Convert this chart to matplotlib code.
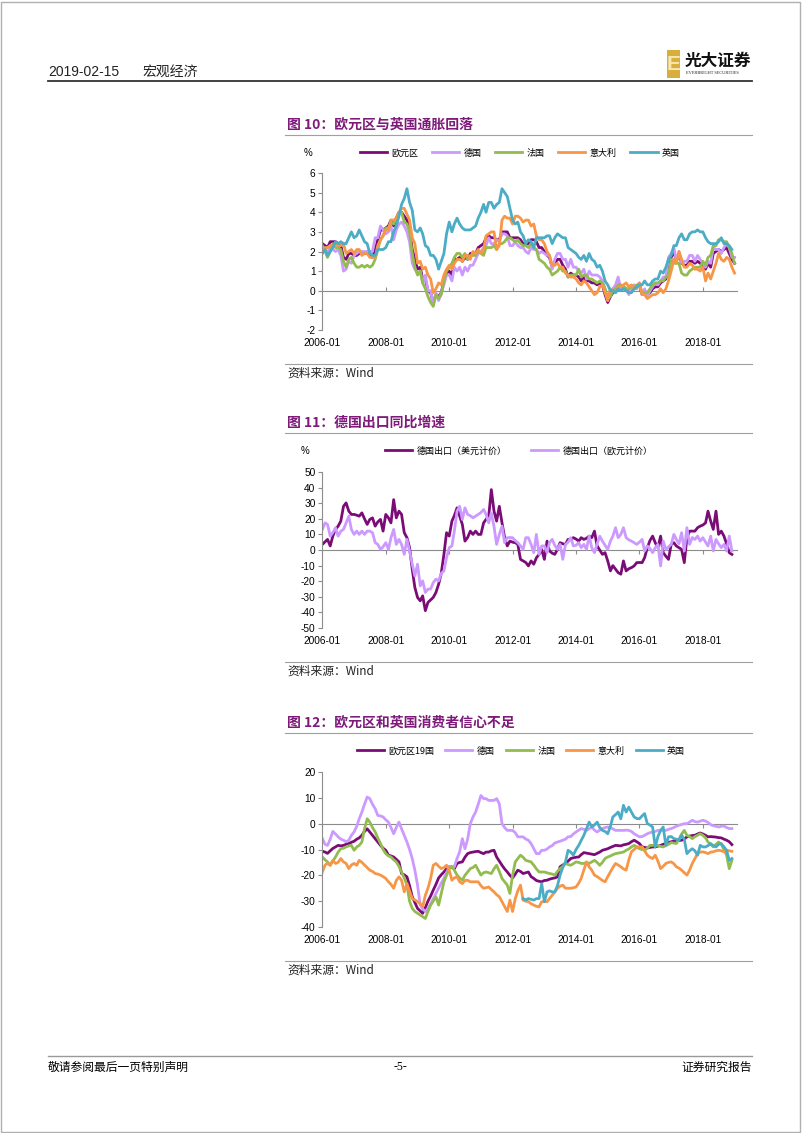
import pandas as pd
import matplotlib
matplotlib.use("Agg")
import matplotlib.pyplot as plt
import matplotlib.dates as mdates
from matplotlib.patches import Rectangle
from matplotlib.lines import Line2D

plt.rcParams['font.family'] = ['Noto Sans CJK SC', 'DejaVu Sans']
plt.rcParams['axes.unicode_minus'] = False

# ---------------- data ----------------
# 图10 HICP/CPI y/y, %, monthly from 2006-01
cpi_ez = [2.4,2.3,2.2,2.5,2.5,2.5,2.4,2.3,1.7,1.6,1.9,1.9,
          1.8,1.8,1.9,1.9,1.9,1.9,1.8,1.7,2.1,2.6,3.1,3.1,
          3.2,3.3,3.6,3.3,3.7,4.0,4.0,3.8,3.6,3.2,2.1,1.6,
          1.1,1.2,0.6,0.6,0.0,-0.1,-0.6,-0.2,-0.3,-0.1,0.5,0.9,
          1.0,0.8,1.6,1.6,1.7,1.5,1.7,1.6,1.9,1.9,1.9,2.2,
          2.3,2.4,2.7,2.8,2.7,2.7,2.6,2.6,3.0,3.0,3.0,2.7,
          2.7,2.7,2.7,2.6,2.4,2.4,2.4,2.6,2.6,2.5,2.2,2.2,
          2.0,1.8,1.7,1.2,1.4,1.6,1.6,1.3,1.1,0.7,0.9,0.8,
          0.8,0.7,0.5,0.7,0.5,0.5,0.4,0.4,0.3,0.4,0.3,-0.2,
          -0.6,-0.3,-0.1,0.0,0.3,0.2,0.2,0.1,-0.1,0.1,0.1,0.2,
          0.3,-0.2,0.0,-0.2,-0.1,0.1,0.2,0.2,0.4,0.5,0.6,1.1,
          1.7,2.0,1.5,1.9,1.4,1.3,1.3,1.5,1.5,1.4,1.5,1.4,
          1.3,1.1,1.4,1.2,1.9,2.0,2.1,2.0,2.1,2.2,1.9,1.6,
          1.4]
cpi_de = [2.1,2.1,1.9,2.3,2.1,2.0,2.1,1.8,1.0,1.1,1.5,1.4,
          1.8,1.9,2.0,2.0,2.0,2.0,2.0,2.0,2.7,2.7,3.3,3.1,
          2.9,3.0,3.3,2.6,3.1,3.4,3.5,3.3,3.0,2.5,1.4,1.1,
          0.9,1.0,0.4,0.8,0.0,0.0,-0.7,-0.1,-0.5,-0.1,0.3,0.8,
          0.8,0.5,1.2,1.0,1.2,0.8,1.2,1.0,1.3,1.3,1.6,1.9,
          2.0,2.2,2.3,2.7,2.4,2.4,2.6,2.5,2.9,2.9,2.8,2.3,
          2.3,2.5,2.3,2.2,2.2,2.0,1.9,2.2,2.1,2.1,1.9,2.0,
          1.9,1.8,1.8,1.1,1.6,1.9,1.9,1.6,1.6,1.2,1.6,1.2,
          1.2,1.0,0.9,1.1,0.6,1.0,0.8,0.8,0.8,0.7,0.5,0.1,
          -0.5,0.0,0.1,0.3,0.7,0.1,0.1,0.1,-0.2,0.2,0.3,0.2,
          0.4,-0.2,0.1,-0.3,0.0,0.2,0.4,0.3,0.5,0.7,0.7,1.7,
          1.9,2.2,1.5,2.0,1.4,1.5,1.5,1.8,1.8,1.5,1.8,1.6,
          1.4,1.2,1.5,1.4,2.2,2.1,2.1,1.9,2.2,2.4,2.2,1.7,
          1.7]
cpi_fr = [2.3,2.0,1.7,2.0,2.4,2.2,2.2,2.1,1.5,1.2,1.6,1.7,
          1.4,1.2,1.2,1.3,1.2,1.3,1.2,1.3,1.6,2.1,2.6,2.8,
          3.2,3.2,3.5,3.4,3.7,4.0,4.0,3.5,3.4,3.0,1.9,1.2,
          0.8,1.0,0.4,0.1,-0.3,-0.6,-0.8,-0.2,-0.4,-0.2,0.5,1.0,
          1.2,1.4,1.7,1.9,1.9,1.7,1.9,1.6,1.8,1.8,1.8,2.0,
          1.9,1.8,2.2,2.2,2.2,2.3,2.1,2.4,2.4,2.5,2.7,2.7,
          2.6,2.5,2.6,2.4,2.3,2.3,2.2,2.4,2.2,2.1,1.6,1.5,
          1.4,1.2,1.1,0.8,0.9,1.0,1.2,1.0,1.0,0.7,0.8,0.8,
          0.8,1.1,0.7,0.8,0.8,0.6,0.6,0.5,0.4,0.5,0.4,0.1,
          -0.4,-0.3,0.0,0.1,0.3,0.3,0.2,0.1,0.1,0.2,0.1,0.3,
          0.3,-0.1,-0.1,-0.1,0.1,0.3,0.4,0.4,0.5,0.5,0.7,0.8,
          1.6,1.4,1.4,1.4,0.9,0.8,0.8,1.0,1.1,1.2,1.2,1.2,
          1.5,1.3,1.7,1.8,2.3,2.3,2.6,2.6,2.5,2.5,2.2,1.9,
          1.4]
cpi_it = [2.2,2.2,2.2,2.3,2.3,2.4,2.3,2.3,2.4,1.9,2.0,2.1,
          1.9,2.1,2.1,1.8,1.9,1.9,1.7,1.7,1.7,2.3,2.6,2.8,
          3.1,3.1,3.6,3.6,3.7,4.0,4.2,4.2,3.9,3.6,2.7,2.4,
          1.4,1.5,1.1,1.2,0.8,0.6,-0.1,0.1,0.4,0.3,0.8,1.1,
          1.3,1.1,1.4,1.6,1.6,1.5,1.8,1.8,1.6,2.0,1.9,2.1,
          1.9,2.1,2.8,2.9,3.0,3.0,2.1,2.3,3.6,3.8,3.7,3.7,
          3.4,3.8,3.8,3.7,3.5,3.6,3.6,3.3,3.4,2.8,2.6,2.6,
          2.4,2.0,1.8,1.3,1.3,1.4,1.2,1.2,0.9,0.8,0.7,0.7,
          0.6,0.4,0.3,0.5,0.4,0.2,0.0,-0.2,-0.1,0.2,0.3,-0.1,
          -0.5,0.1,0.0,-0.1,0.2,0.2,0.3,0.4,0.2,0.3,0.1,0.1,
          0.4,-0.2,-0.2,-0.4,-0.3,-0.2,-0.2,-0.1,0.1,-0.1,0.1,0.5,
          1.0,1.6,1.4,2.0,1.6,1.2,1.2,1.4,1.3,1.1,1.1,1.0,
          1.2,0.5,0.9,0.6,1.0,1.4,1.9,1.6,1.5,1.7,1.6,1.2,
          0.9]
cpi_uk = [1.9,2.1,1.8,2.0,2.2,2.5,2.4,2.5,2.4,2.4,2.7,3.0,
          2.7,2.8,3.1,2.8,2.5,2.4,1.9,1.8,1.8,2.1,2.1,2.1,
          2.2,2.5,2.5,3.0,3.3,3.8,4.4,4.7,5.2,4.5,4.1,3.1,
          3.0,3.2,2.9,2.3,2.2,1.8,1.8,1.6,1.1,1.5,1.9,2.9,
          3.5,3.0,3.4,3.7,3.4,3.2,3.1,3.1,3.1,3.2,3.3,3.7,
          4.0,4.4,4.0,4.5,4.5,4.2,4.4,4.5,5.2,5.0,4.8,4.2,
          3.6,3.4,3.5,3.0,2.8,2.4,2.6,2.5,2.2,2.7,2.7,2.7,
          2.7,2.8,2.8,2.4,2.7,2.9,2.8,2.7,2.7,2.2,2.1,2.0,
          1.9,1.7,1.6,1.8,1.5,1.9,1.6,1.5,1.2,1.3,1.0,0.5,
          0.3,0.0,0.0,-0.1,0.1,0.0,0.1,0.0,-0.1,-0.1,0.1,0.2,
          0.3,0.3,0.5,0.3,0.3,0.5,0.6,0.6,1.0,0.9,1.2,1.6,
          1.8,2.3,2.3,2.7,2.9,2.6,2.6,2.9,3.0,3.0,3.1,3.0,
          3.0,2.7,2.5,2.4,2.4,2.4,2.5,2.7,2.4,2.4,2.3,2.1]
cpi_names = ['欧元区', '德国', '法国', '意大利', '英国']

# 图11 German exports y/y, %, monthly from 2006-01
exp_usd = [3.6,5.3,6.8,2.6,8.9,13.2,15.3,18.5,28.0,30.2,24.9,22.8,
           22.8,22.3,21.7,23.8,20.0,16.4,19.6,20.6,15.3,18.0,19.6,12.1,
           22.8,20.6,17.4,32.3,20.6,24.9,22.8,11.1,7.9,1.5,-12.3,-24.0,
           -30.4,-32.6,-29.4,-38.9,-33.6,-32.0,-30.4,-27.2,-21.9,-15.0,-2.8,11.1,
           8.9,18.5,22.0,27.0,21.7,16.4,5.7,8.0,12.1,10.0,12.1,10.0,
           10.0,17.4,19.6,21.7,38.7,24.9,18.5,28.0,17.4,8.0,2.6,5.7,
           5.0,4.7,3.6,-6.0,-7.0,-8.0,-10.2,-7.0,-9.1,-5.0,-2.8,0.4,
           -6.0,5.7,-0.6,-2.0,-2.8,0.4,4.7,4.0,3.6,6.8,6.8,7.9,
           7.0,5.7,7.9,6.8,7.5,8.9,7.9,12.1,2.6,0.0,-2.8,-1.7,
           -7.0,-13.4,-10.0,-12.3,-14.5,-15.5,-7.0,-13.4,-12.0,-11.3,-10.2,-8.1,
           -8.0,-8.1,-4.9,1.5,6.0,8.9,4.7,1.5,8.9,-1.7,-4.0,-6.0,
           3.6,4.7,2.6,1.5,0.4,-8.1,7.9,12.1,12.1,12.1,14.3,15.3,
           16.0,17.4,24.9,18.5,13.2,24.9,10.0,12.1,8.9,4.0,-1.7,-2.8]
exp_eur = [13.2,17.4,16.4,8.9,11.1,14.3,8.9,12.1,13.2,17.4,21.7,13.2,
           10.0,12.1,10.0,12.1,10.0,12.1,12.1,11.1,4.7,3.6,0.4,2.0,
           4.7,0.4,7.9,13.2,3.6,6.8,3.6,-2.8,6.8,-0.6,-9.1,-16.6,
           -9.1,-23.0,-19.8,-27.2,-25.1,-25.0,-20.9,-18.7,-19.8,-15.0,-13.4,-4.9,
           1.5,2.6,12.1,24.9,28.0,19.6,27.0,22.8,22.0,20.6,21.7,22.8,
           24.0,26.0,22.8,17.4,23.8,15.0,3.6,10.0,15.3,4.7,7.9,8.0,
           7.9,6.0,4.7,2.6,0.4,7.9,7.9,3.6,-1.7,10.0,-2.8,2.6,
           2.6,-1.7,4.7,6.8,3.0,0.4,3.6,-6.0,3.6,5.0,7.9,2.6,
           3.0,4.7,1.5,3.6,0.4,8.9,1.5,-1.7,4.0,8.9,5.7,3.0,
           0.4,5.7,8.9,14.3,7.9,10.0,14.3,7.9,6.5,5.7,4.7,3.6,
           5.0,6.8,-0.6,2.6,1.0,-1.7,1.5,3.6,-10.2,5.7,0.4,2.0,
           3.6,10.0,6.8,4.0,11.1,-0.6,14.3,3.6,8.0,6.8,8.9,5.7,
           7.9,5.0,2.6,8.9,-0.6,6.8,4.0,1.5,3.6,-0.6,8.9,-0.6]
exp_names = ['德国出口（美元计价）', '德国出口（欧元计价）']

# 图12 consumer confidence, monthly from 2006-01
cc_ez = [-10.7,-11.0,-11.5,-10.5,-9.6,-9.0,-8.4,-8.6,-8.4,-8.0,-7.7,-7.2,
         -6.8,-6.0,-5.5,-4.5,-3.0,-2.0,-3.2,-4.5,-5.8,-7.0,-8.4,-9.5,
         -10.3,-12.2,-12.5,-12.9,-13.8,-14.8,-19.3,-19.8,-20.6,-24.0,-28.3,-30.5,
         -32.8,-33.8,-34.7,-32.5,-30.0,-28.0,-25.7,-23.5,-21.0,-19.8,-18.7,-17.5,
         -16.7,-17.0,-17.4,-15.4,-15.0,-14.8,-13.0,-11.6,-11.2,-11.0,-10.8,-10.7,
         -11.2,-11.6,-11.0,-11.0,-10.5,-10.3,-12.9,-14.5,-16.1,-17.5,-18.7,-20.0,
         -21.0,-19.5,-18.0,-18.5,-19.3,-19.0,-18.7,-20.5,-21.2,-22.0,-22.3,-22.5,
         -22.0,-21.9,-21.5,-21.2,-21.0,-20.6,-16.7,-16.0,-15.4,-14.5,-13.5,-13.2,
         -13.0,-12.9,-12.0,-11.2,-11.4,-11.6,-11.8,-12.0,-11.5,-11.0,-10.3,-10.0,
         -9.7,-9.2,-8.8,-8.4,-8.5,-8.6,-8.2,-8.0,-7.7,-7.0,-6.4,-7.0,
         -7.7,-9.0,-9.2,-9.4,-9.2,-9.0,-9.0,-8.7,-8.4,-8.0,-7.6,-7.3,
         -7.0,-6.8,-6.6,-6.5,-6.4,-6.0,-5.1,-4.8,-4.6,-4.5,-4.0,-3.6,
         -4.0,-4.5,-5.1,-5.0,-5.1,-5.2,-5.4,-5.5,-6.0,-6.4,-7.0,-8.1]
cc_de = [-5.8,-8.0,-8.4,-6.0,-3.0,-4.0,-5.1,-6.0,-6.4,-7.0,-6.4,-4.5,
         -3.2,-1.0,1.9,4.5,7.5,10.3,9.7,7.5,5.8,3.2,3.0,2.6,
         1.5,0.6,-1.5,-3.9,-1.5,0.6,-2.0,-4.5,-7.1,-10.0,-13.5,-18.0,
         -23.8,-31.5,-33.0,-34.0,-32.8,-31.0,-29.0,-27.0,-25.0,-23.0,-21.2,-19.0,
         -16.7,-16.5,-16.7,-13.5,-10.9,-5.8,-9.7,-6.0,0.0,2.5,4.5,7.5,
         10.9,9.7,9.7,9.0,9.0,9.0,9.7,7.7,0.0,-1.5,-2.6,-2.6,
         -2.6,-3.5,-5.1,-5.1,-5.1,-6.0,-6.4,-7.7,-9.7,-11.6,-11.6,-10.3,
         -10.3,-9.8,-9.0,-8.5,-7.5,-7.1,-6.8,-6.4,-6.0,-5.1,-5.0,-4.0,
         -3.2,-2.5,-1.9,-2.2,-2.6,-2.0,-1.3,-2.5,-3.2,-2.5,-1.9,-1.5,
         -1.3,-1.5,-2.0,-2.6,-2.6,-2.6,-2.6,-2.5,-2.6,-3.0,-3.9,-4.5,
         -5.1,-5.0,-4.5,-3.9,-3.5,-3.2,-3.0,-2.6,-2.6,-2.6,-2.6,-2.2,
         -1.9,-1.5,-1.0,-0.6,-0.3,0.0,0.0,0.6,1.3,0.8,0.6,1.0,
         1.3,1.0,0.5,-0.4,-0.8,-1.0,-1.3,-1.0,-0.9,-1.5,-1.9,-1.9]
cc_fr = [-12.9,-14.0,-14.8,-16.1,-14.5,-12.9,-11.0,-9.7,-9.5,-9.0,-8.6,-8.4,
         -10.3,-9.0,-8.4,-7.1,-2.0,1.9,0.6,-1.5,-3.2,-5.5,-7.7,-10.0,
         -11.6,-12.5,-12.9,-14.0,-14.8,-16.5,-18.7,-21.0,-23.8,-30.0,-32.8,-34.0,
         -34.7,-35.4,-36.0,-36.7,-34.0,-31.5,-30.0,-28.3,-31.5,-27.0,-22.5,-20.0,
         -17.4,-16.7,-18.0,-19.9,-21.0,-21.9,-20.0,-18.7,-17.4,-17.0,-16.1,-18.0,
         -19.9,-19.0,-18.7,-19.0,-19.3,-17.5,-16.1,-18.5,-21.2,-22.5,-23.8,-27.0,
         -19.9,-14.8,-13.5,-12.2,-13.0,-14.2,-14.5,-14.8,-16.1,-17.5,-18.7,-18.7,
         -18.7,-19.0,-19.3,-19.5,-19.9,-18.5,-17.4,-16.5,-15.4,-15.8,-16.1,-15.5,
         -14.8,-15.0,-15.4,-15.4,-15.0,-15.4,-14.8,-14.2,-15.0,-16.1,-15.0,-13.5,
         -12.9,-12.5,-12.0,-11.6,-11.4,-11.2,-11.0,-10.3,-9.8,-9.0,-8.4,-9.0,
         -9.7,-10.0,-10.3,-9.5,-8.4,-8.4,-8.4,-8.4,-8.8,-9.0,-8.5,-8.0,
         -7.3,-7.5,-7.7,-6.0,-4.0,-2.6,-4.5,-5.0,-5.8,-5.0,-4.5,-3.9,
         -4.5,-5.5,-7.1,-8.0,-9.0,-8.0,-7.1,-8.0,-10.0,-12.2,-17.4,-14.2]
cc_it = [-18.7,-16.0,-15.4,-16.1,-14.2,-15.4,-15.0,-13.5,-14.8,-15.4,-17.4,-16.0,
         -15.4,-16.1,-14.2,-15.0,-16.0,-17.0,-18.0,-18.5,-19.3,-19.5,-19.9,-20.5,
         -21.2,-22.5,-23.5,-25.0,-22.0,-20.6,-21.9,-26.4,-23.2,-26.0,-29.0,-29.5,
         -30.2,-31.0,-32.2,-27.7,-25.0,-21.2,-16.1,-15.4,-16.5,-17.4,-17.0,-16.1,
         -18.0,-21.9,-21.0,-20.6,-22.5,-23.2,-22.0,-21.9,-22.5,-22.5,-22.5,-22.5,
         -24.0,-25.0,-24.8,-24.5,-25.5,-26.4,-27.5,-28.3,-30.2,-32.0,-34.0,-29.6,
         -34.0,-29.0,-26.0,-23.8,-29.6,-30.0,-30.2,-31.0,-31.5,-32.0,-32.2,-30.2,
         -30.2,-30.2,-29.0,-27.7,-26.5,-25.0,-24.2,-23.8,-25.0,-25.0,-25.0,-24.8,
         -24.5,-23.0,-21.2,-18.0,-14.8,-16.7,-18.0,-19.9,-20.5,-21.2,-22.0,-22.5,
         -20.5,-18.7,-17.0,-15.4,-16.0,-16.7,-17.5,-18.0,-14.0,-10.9,-10.0,-9.0,
         -9.0,-9.0,-10.5,-12.2,-13.0,-13.5,-12.2,-14.5,-17.4,-16.5,-15.4,-15.0,
         -14.8,-15.5,-16.7,-17.2,-18.0,-19.0,-19.9,-18.0,-15.4,-13.5,-11.6,-11.0,
         -10.9,-11.2,-11.6,-11.0,-10.9,-10.5,-10.3,-10.5,-10.9,-10.3,-10.5,-10.7]
# UK series starts 2012-05
cc_uk = [-29.0,-29.5,-29.0,-29.3,-29.6,-29.0,-29.0,-23.2,
         -30.2,-26.4,-26.0,-26.4,-26.4,-24.0,-19.9,-17.0,-14.8,-10.3,-11.0,-12.2,
         -10.0,-8.4,-6.5,-4.5,-2.0,0.6,-1.3,-0.5,0.6,-1.5,-2.6,-3.0,
         -3.9,-1.0,2.6,3.5,4.5,1.9,7.1,4.5,6.4,4.5,2.6,2.0,
         1.9,3.0,3.9,0.0,-0.5,-1.3,-9.0,-5.0,-2.6,-1.3,-8.4,-5.1,
         -5.0,-5.8,-6.0,-6.4,-4.5,-6.0,-11.6,-10.5,-9.7,-10.5,-12.2,-8.4,
         -9.0,-9.0,-8.5,-7.7,-8.5,-9.0,-8.0,-7.7,-9.0,-10.3,-14.2,-13.5]
cc_names = ['欧元区19国', '德国', '法国', '意大利', '英国']

colors5 = ['#7B0C77', '#CC99FF', '#92BC4E', '#F79646', '#4BACC6']
colors2 = ['#7B0C77', '#CC99FF']

W, H = 802, 1133
GRAY = '#8C8C8C'
TITLE_C = '#7E1A7A'
NUM_FONT = ['Liberation Sans', 'DejaVu Sans']


def fx(x):
    return x / W


def fy(y):
    return 1 - y / H


def months(start, n):
    return pd.date_range(start, periods=n, freq='MS')


fig = plt.figure(figsize=(W / 100, H / 100), dpi=100)

# page frame
fig.add_artist(Rectangle((0.001, 0.001), 0.997, 0.997, fill=False,
                         edgecolor='#B0B0B0', lw=1, transform=fig.transFigure))

# header
fig.text(fx(48), fy(72), '2019-02-15', fontsize=10, family=NUM_FONT,
         va='center', color='#222222')
fig.text(fx(142), fy(72), '宏观经济', fontsize=10, va='center', color='#222222')
fig.add_artist(Line2D([fx(48), fx(752)], [fy(81), fy(81)], color='#333333',
                      lw=1.3, transform=fig.transFigure))
fig.add_artist(Rectangle((fx(667), fy(78)), 13 / W, 28 / H, facecolor='#D8AE3C',
                         edgecolor='none', transform=fig.transFigure))
fig.text(fx(673.5), fy(64), 'E', fontsize=15, weight='bold', color='#F7E7B0',
         family=NUM_FONT, ha='center', va='center')
fig.text(fx(685), fy(61), '光大证券', fontsize=12, weight='bold', va='center',
         color='#111111')
fig.text(fx(686), fy(73.5), 'EVERBRIGHT SECURITIES', fontsize=3.2,
         family=['Liberation Serif', 'DejaVu Serif'], va='center', color='#222222')

# footer
fig.add_artist(Line2D([fx(48), fx(752)], [fy(1056), fy(1056)], color='#999999',
                      lw=1, transform=fig.transFigure))
fig.text(fx(48), fy(1067), '敬请参阅最后一页特别声明', fontsize=8.5, va='center')
fig.text(fx(400), fy(1067), '-5-', fontsize=8.5, va='center', ha='center',
         family=['Liberation Serif', 'DejaVu Serif'])
fig.text(fx(752), fy(1067), '证券研究报告', fontsize=8.5, va='center', ha='right')


def chart(title, title_y, top, bottom, ylim, ystep, series, dates_list, names,
          colors, leg_cx, colspace, pct_y=None):
    # title + separators
    fig.text(fx(287), fy(title_y), title, fontsize=10, weight='bold',
             color=TITLE_C, va='center')
    fig.add_artist(Line2D([fx(285), fx(752)], [fy(title_y + 10)] * 2,
                          color='#A0A0A0', lw=0.8, transform=fig.transFigure))
    src_y = bottom + 34
    fig.add_artist(Line2D([fx(285), fx(752)], [fy(src_y)] * 2,
                          color='#A0A0A0', lw=0.8, transform=fig.transFigure))
    fig.text(fx(287), fy(src_y + 9), '资料来源：Wind', fontsize=8.5,
             va='center', color='#222222')

    ax = fig.add_axes([fx(322.4), fy(bottom), 414.5 / W, (bottom - top) / H])
    handles = []
    for vals, d, c in zip(series, dates_list, colors):
        h, = ax.plot(d, vals, color=c, lw=2.0, solid_joinstyle='round')
        handles.append(h)
    ax.set_ylim(*ylim)
    ax.set_xlim(pd.Timestamp('2006-01-01'), pd.Timestamp('2019-01-28'))
    ax.set_yticks(range(ylim[0], ylim[1] + 1, ystep))

    xt = pd.date_range('2006-01-01', '2018-01-01', freq='2YS')
    ax.set_xticks(xt)
    ax.xaxis.set_major_formatter(mdates.DateFormatter('%Y-%m'))
    ax.tick_params(axis='x', length=0, pad=6, labelsize=7.3)
    ax.tick_params(axis='y', length=3, width=0.8, color=GRAY, labelsize=7.3, pad=2)
    for lab in ax.get_xticklabels() + ax.get_yticklabels():
        lab.set_family(NUM_FONT)
    for s in ['top', 'right', 'bottom']:
        ax.spines[s].set_visible(False)
    ax.spines['left'].set_color(GRAY)
    ax.spines['left'].set_linewidth(0.8)
    ax.patch.set_alpha(0)

    zero = ax.secondary_xaxis((0 - ylim[0]) / (ylim[1] - ylim[0]))
    zero.set_xticks(xt)
    zero.tick_params(direction='in', length=3, width=0.8, color=GRAY,
                     labelbottom=False, labeltop=False)
    for s in zero.spines.values():
        s.set_color(GRAY)
        s.set_linewidth(0.8)

    fig.legend(handles, names, loc='center', ncol=len(names), frameon=False,
               bbox_to_anchor=(fx(leg_cx), fy(title_y + 28)),
               bbox_transform=fig.transFigure, fontsize=6.5, handlelength=3,
               handletextpad=0.5, columnspacing=colspace)
    if pct_y is not None:
        fig.text(fx(pct_y), fy(title_y + 28), '%', fontsize=7, family=NUM_FONT,
                 va='center', ha='center')
    return ax


d157 = months('2006-01-01', 157)
d156 = months('2006-01-01', 156)
chart('图 10：欧元区与英国通胀回落', 125, 173, 330, (-2, 6), 1,
      [cpi_ez, cpi_de, cpi_fr, cpi_it, cpi_uk],
      [d157, d157, d157, d157, d156], cpi_names, colors5, 520, 1.5, pct_y=308)

chart('图 11：德国出口同比增速', 423, 472, 628, (-50, 50), 10,
      [exp_usd, exp_eur], [d156, d156], exp_names, colors2, 519, 2.7,
      pct_y=305)

chart('图 12：欧元区和英国消费者信心不足', 723, 772, 927, (-40, 20), 10,
      [cc_ez, cc_de, cc_fr, cc_it, cc_uk],
      [d156, d156, d156, d156, months('2012-05-01', len(cc_uk))],
      cc_names, colors5, 521, 1.2)

fig.savefig('out.png', dpi=100)
